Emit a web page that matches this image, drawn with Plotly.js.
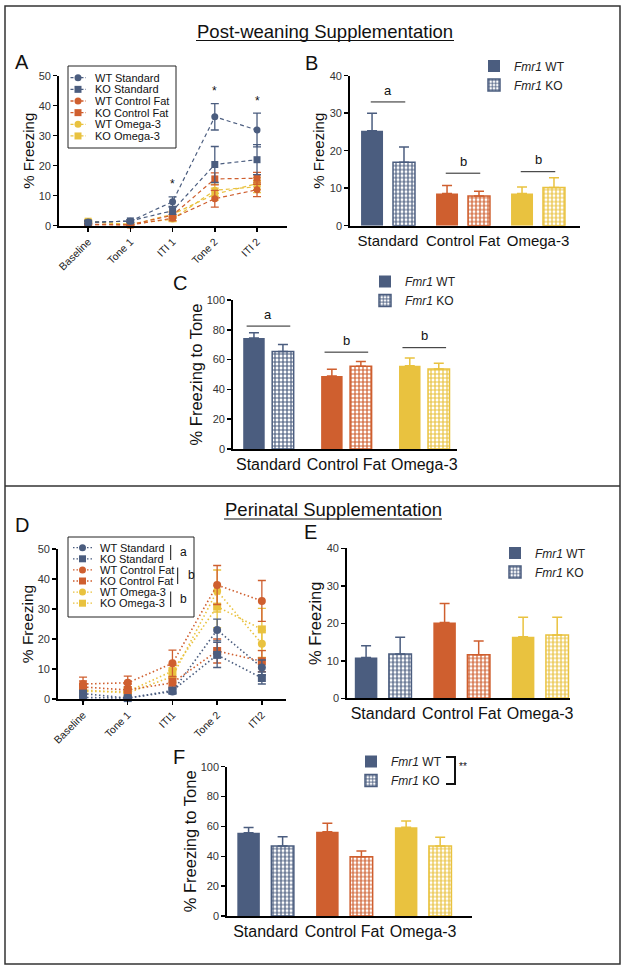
<!DOCTYPE html>
<html><head><meta charset="utf-8">
<script src="https://cdn.plot.ly/plotly-3.0.1.min.js"></script>
<style>html,body{margin:0;padding:0;background:#fff}</style>
</head><body><div id="chart" style="width:625px;height:968px"></div>
<script>
// ---------------- DATA ----------------
const phasesPost = ["Baseline","Tone 1","ITI 1","Tone 2","ITI 2"];
const phasesPeri = ["Baseline","Tone 1","ITI1","Tone 2","ITI2"];
const seriesNames = ["WT Standard","KO Standard","WT Control Fat","KO Control Fat","WT Omega-3","KO Omega-3"];
const diets = ["Standard","Control Fat","Omega-3"];
const genotypes = ["<i>Fmr1</i> WT","<i>Fmr1</i> KO"];

// Panel A (post-weaning, % freezing by phase), mean and SEM
const aWtStd = [1.2, 1.5, 8.0, 36.3, 31.9];   const aWtStdErr = [0.5, 0.4, 1.6, 4.4, 5.6];
const aKoStd = [1.0, 1.6, 5.0, 20.4, 22.0];   const aKoStdErr = [0.4, 0.4, 1.2, 6.0, 5.0];
const aWtCf  = [0.3, 0.2, 2.5, 9.0, 12.0];    const aWtCfErr  = [0.2, 0.2, 0.8, 2.8, 2.3];
const aKoCf  = [0.5, 0.3, 3.5, 15.6, 15.8];   const aKoCfErr  = [0.3, 0.2, 1.0, 2.0, 2.0];
const aWtOm  = [1.3, 0.5, 2.2, 11.8, 13.0];   const aWtOmErr  = [0.5, 0.3, 0.8, 2.0, 2.0];
const aKoOm  = [1.5, 0.3, 3.8, 10.5, 14.0];   const aKoOmErr  = [0.5, 0.2, 1.0, 2.0, 2.0];
const aStars = ["", "", "*", "*", "*"];

// Panel B (post-weaning, % freezing)
const bWt = [25.3, 8.6, 8.6];   const bWtErr = [4.7, 2.1, 1.7];
const bKo = [16.9, 7.9, 10.2];  const bKoErr = [4.1, 1.3, 2.6];
const bLetters = ["a","b","b"]; const bLetterLevel = [33, 14, 14.4];

// Panel C (post-weaning, % freezing to tone)
const cWt = [74.5, 49.0, 55.9]; const cWtErr = [3.6, 4.5, 5.2];
const cKo = [65.5, 55.5, 53.7]; const cKoErr = [4.7, 3.3, 3.8];
const cLetters = ["a","b","b"]; const cLetterLevel = [82.5, 65, 68];

// Panel D (perinatal, % freezing by phase)
const dWtStd = [0.5, 0.3, 2.5, 23.0, 10.5];   const dWtStdErr = [0.5, 0.3, 0.8, 3.6, 2.5];
const dKoStd = [1.8, 0.3, 2.8, 14.7, 7.0];    const dKoStdErr = [1.0, 0.3, 0.8, 4.2, 2.0];
const dWtCf  = [5.0, 5.4, 11.9, 38.0, 32.7];  const dWtCfErr  = [2.3, 2.2, 4.4, 6.5, 6.8];
const dKoCf  = [4.0, 3.0, 5.4, 16.0, 12.6];   const dKoCfErr  = [2.0, 2.0, 1.5, 4.0, 3.5];
const dWtOm  = [3.0, 2.0, 7.5, 36.0, 18.4];   const dWtOmErr  = [1.5, 1.5, 2.0, 7.0, 4.5];
const dKoOm  = [2.5, 2.5, 9.3, 30.8, 23.2];   const dKoOmErr  = [1.5, 1.5, 2.0, 7.0, 7.0];
const dGroupLetters = ["a","b","b"];

// Panel E (perinatal, % freezing)
const eWt = [10.9, 20.2, 16.4]; const eWtErr = [3.1, 5.1, 5.2];
const eKo = [11.8, 11.6, 16.9]; const eKoErr = [4.5, 3.7, 4.7];

// Panel F (perinatal, % freezing to tone)
const fWt = [55.8, 56.5, 59.4]; const fWtErr = [3.4, 5.6, 4.2];
const fKo = [46.9, 39.7, 46.9]; const fKoErr = [6.2, 3.8, 5.8];

// ---------------- STYLE ----------------
const W = 625, H = 968;
const px = x => x / W, py = y => 1 - y / H;
const FONT = "Liberation Sans, Arial, sans-serif";
const dietColors = ["#4b5d7f", "#cf5f2f", "#e9c23f"];
const seriesColors = [dietColors[0], dietColors[0], dietColors[1], dietColors[1], dietColors[2], dietColors[2]];
const seriesSymbols = ["circle","square","circle","square","circle","square"];

const traces = [];
const shapes = [];
const annotations = [];

function lineTraces(cats, means, errs, xa, ya, dash, lw, msize) {
  for (let i = means.length - 1; i >= 0; i--) {
    traces.push({
      type: "scatter", mode: "lines+markers", name: seriesNames[i],
      x: cats, y: means[i], xaxis: xa, yaxis: ya, showlegend: false, cliponaxis: false,
      line: {color: seriesColors[i], dash: dash, width: lw},
      marker: {symbol: seriesSymbols[i], size: msize, color: seriesColors[i]},
      error_y: {type: "data", array: errs[i], color: seriesColors[i], thickness: 1.3, width: 4}
    });
  }
}

function barTraces(wt, wtErr, ko, koErr, xa, ya, legendId, w, d) {
  const groups = [[wt, wtErr], [ko, koErr]];
  groups.forEach((g, gi) => {
    for (let k = 0; k < diets.length; k++) {
      const t = {
        type: "bar", name: genotypes[gi], x: [diets[k]], y: [g[0][k]],
        xaxis: xa, yaxis: ya, legend: legendId, showlegend: k === 0,
        width: w, offset: (gi === 0 ? -d : d) - w / 2, cliponaxis: false,
        marker: {color: dietColors[k], line: {color: dietColors[k], width: gi === 0 ? 0 : 1.5}},
        error_y: {type: "data", symmetric: false, array: [g[1][k]], arrayminus: [0],
                  color: dietColors[k], thickness: 1.5, width: 5}
      };
      if (gi === 1) {
        t.marker.pattern = {shape: "+", fgcolor: dietColors[k], bgcolor: "white", size: 4, solidity: 0.5, fillmode: "replace"};
      }
      traces.push(t);
    }
  });
}

lineTraces(phasesPost, [aWtStd, aKoStd, aWtCf, aKoCf, aWtOm, aKoOm],
           [aWtStdErr, aKoStdErr, aWtCfErr, aKoCfErr, aWtOmErr, aKoOmErr], "x", "y", "4px,3px", 1.2, 7);
barTraces(bWt, bWtErr, bKo, bKoErr, "x2", "y2", "legend", 0.293, 0.213);
barTraces(cWt, cWtErr, cKo, cKoErr, "x3", "y3", "legend2", 0.276, 0.186);
lineTraces(phasesPeri, [dWtStd, dKoStd, dWtCf, dKoCf, dWtOm, dKoOm],
           [dWtStdErr, dKoStdErr, dWtCfErr, dKoCfErr, dWtOmErr, dKoOmErr], "x4", "y4", "1.5px,2.5px", 1.6, 8);
barTraces(eWt, eWtErr, eKo, eKoErr, "x5", "y5", "legend3", 0.287, 0.217);
barTraces(fWt, fWtErr, fKo, fKoErr, "x6", "y6", "legend4", 0.286, 0.216);

// ---------------- AXES ----------------
function xAxis(l, r, range, ya, opts) {
  return Object.assign({
    domain: [px(l), px(r)], anchor: ya, type: "category", range: range,
    showline: true, linecolor: "#000", linewidth: 1.8, showgrid: false, zeroline: false,
    ticks: "", tickangle: 0, tickfont: {family: FONT, size: 16, color: "#111"}, fixedrange: true
  }, opts || {});
}
function yAxis(top, bottom, range, dtick, xa, title, tsize, standoff) {
  return {
    domain: [py(bottom), py(top)], anchor: xa, range: range, dtick: dtick,
    showline: true, linecolor: "#000", linewidth: 1.8, showgrid: false, zeroline: false,
    ticks: "outside", ticklen: 4, tickwidth: 1.5, tickcolor: "#000",
    tickfont: {family: FONT, size: 11, color: "#333"},
    title: {text: title, font: {family: FONT, size: tsize, color: "#111"}, standoff: standoff},
    fixedrange: true
  };
}
const lineX = {ticks: "outside", ticklen: 4, tickwidth: 1.5, tickcolor: "#000", tickangle: -45,
               tickfont: {family: FONT, size: 10.5, color: "#222"}};

// ---------------- LEGENDS (line panels) ----------------
function txt(x, y, text, size, xanchor) {
  return {xref: "paper", yref: "paper", x: px(x), y: py(y), xanchor: xanchor || "center", yanchor: "middle",
          text: text, showarrow: false, font: {family: FONT, size: size, color: "#111"}};
}
function customLegend(box, firstY, step, lineX0, lineX1, mx, textX, dash, fsize) {
  shapes.push({type: "rect", xref: "paper", yref: "paper", x0: px(box[0]), x1: px(box[2]), y0: py(box[1]), y1: py(box[3]),
               line: {color: "#222", width: 1}, fillcolor: "white", layer: "above"});
  seriesNames.forEach((nm, i) => {
    const y = firstY + i * step, c = seriesColors[i];
    shapes.push({type: "line", xref: "paper", yref: "paper", x0: px(lineX0), x1: px(lineX1), y0: py(y), y1: py(y),
                 line: {color: c, width: 1.3, dash: dash}, layer: "above"});
    const r = 3.5;
    shapes.push({type: seriesSymbols[i] === "circle" ? "circle" : "rect", xref: "paper", yref: "paper",
                 x0: px(mx - r), x1: px(mx + r), y0: py(y - r), y1: py(y + r),
                 fillcolor: c, line: {color: c, width: 0}, layer: "above"});
    annotations.push(txt(textX, y, nm, fsize, "left"));
  });
}
customLegend([68, 66, 176, 148], 77.7, 11.65, 70.5, 86, 78, 93, "3px,2px", 11);
customLegend([68, 537, 194, 617], 547.7, 11.1, 73, 92, 82.5, 97.5, "1.5px,2px", 11);
// group letters beside legend D
const dBars = [[170.7, 545, 560, 178, 552], [177.7, 567.5, 584, 185.5, 575], [170.7, 591.5, 607, 178, 599]];
dBars.forEach((b, i) => {
  shapes.push({type: "line", xref: "paper", yref: "paper", x0: px(b[0]), x1: px(b[0]), y0: py(b[1]), y1: py(b[2]),
               line: {color: "#111", width: 1}, layer: "above"});
  annotations.push(txt(b[3], b[4], dGroupLetters[i], 12, "left"));
});

// asterisks on panel A
aStars.forEach((s, i) => {
  if (!s) return;
  const top = [aWtStd[i] + aWtStdErr[i], aKoStd[i] + aKoStdErr[i]];
  annotations.push({xref: "x", yref: "y", x: i, y: Math.max(...top) + 4.2, text: s, showarrow: false,
                    xanchor: "center", yanchor: "middle", font: {family: FONT, size: 12, color: "#111"}});
});

// significance lines panels B and C
function sigLines(letters, levels, xa, ya, half, gap) {
  letters.forEach((l, k) => {
    shapes.push({type: "line", xref: xa, yref: ya, x0: k - half, x1: k + half, y0: levels[k], y1: levels[k],
                 line: {color: "#222", width: 1}});
    annotations.push({xref: xa, yref: ya, x: k, y: levels[k] + gap, text: l, showarrow: false,
                      xanchor: "center", yanchor: "bottom", font: {family: FONT, size: 13, color: "#111"}});
  });
}
sigLines(bLetters, bLetterLevel, "x2", "y2", 0.23, 0.6);
sigLines(cLetters, cLetterLevel, "x3", "y3", 0.28, 1.5);

// F genotype bracket
shapes.push({type: "path", xref: "paper", yref: "paper",
  path: `M ${px(446)} ${py(757)} L ${px(455)} ${py(757)} L ${px(455)} ${py(784)} L ${px(446)} ${py(784)}`,
  line: {color: "#111", width: 2}});
annotations.push(txt(457, 766, "**", 10, "left"));

// frame, divider, section titles
shapes.push({type: "rect", xref: "paper", yref: "paper", x0: px(5), x1: px(620), y0: py(6), y1: py(964),
             line: {color: "#333", width: 1.5}});
shapes.push({type: "line", xref: "paper", yref: "paper", x0: px(5), x1: px(620), y0: py(486), y1: py(486),
             line: {color: "#333", width: 1.5}});
const sections = [["Post-weaning Supplementation", 325, 31, 40.5, 129], ["Perinatal Supplementation", 333, 509, 519, 109]];
sections.forEach(s => {
  annotations.push(txt(s[1], s[2], s[0], 18.5));
  shapes.push({type: "line", xref: "paper", yref: "paper", x0: px(s[1] - s[4]), x1: px(s[1] + s[4]), y0: py(s[3]), y1: py(s[3]),
               line: {color: "#111", width: 1.2}});
});
// panel letters
[["A", 22, 62], ["B", 311, 63], ["C", 180, 283], ["D", 22, 525], ["E", 310, 532], ["F", 179, 757]].forEach(p => {
  annotations.push(txt(p[1], p[2], p[0], 20));
});

function barLegend(x, y) {
  return {x: px(x), y: py(y), xanchor: "left", yanchor: "top", bgcolor: "rgba(0,0,0,0)", borderwidth: 0,
          font: {family: FONT, size: 12, color: "#222"}, tracegroupgap: 0};
}

const layout = {
  width: W, height: H, margin: {l: 0, r: 0, t: 0, b: 0}, autosize: false,
  paper_bgcolor: "#fff", plot_bgcolor: "#fff", font: {family: FONT},
  barmode: "overlay",
  xaxis: xAxis(59, 287, [-0.69, 4.71], "y", lineX),
  yaxis: yAxis(75.7, 225.7, [0, 50], 10, "x", "% Freezing", 15, 0),
  xaxis2: xAxis(350, 580, [-0.507, 2.56], "y2", {tickfont: {family: FONT, size: 15, color: "#111"}}),
  yaxis2: yAxis(75.7, 225.7, [0, 40], 10, "x2", "% Freezing", 15, 1),
  xaxis3: xAxis(233, 457, [-0.455, 2.42], "y3"),
  yaxis3: yAxis(300, 449, [0, 100], 20, "x3", "% Freezing to Tone", 16.5, 0),
  xaxis4: xAxis(58, 286, [-0.56, 4.54], "y4", lineX),
  yaxis4: yAxis(549, 699, [0, 50], 10, "x4", "% Freezing", 15.5, 0),
  xaxis5: xAxis(347, 570, [-0.46, 2.38], "y5"),
  yaxis5: yAxis(548.3, 698.3, [0, 40], 10, "x5", "% Freezing", 16.5, 1),
  xaxis6: xAxis(227, 472, [-0.49, 2.62], "y6"),
  yaxis6: yAxis(766.7, 916, [0, 100], 20, "x6", "% Freezing to Tone", 16.5, 0),
  legend: barLegend(474, 51.5),
  legend2: barLegend(365, 267),
  legend3: barLegend(495, 538.5),
  legend4: barLegend(351, 747),
  shapes: shapes, annotations: annotations
};

Plotly.newPlot("chart", traces, layout, {displayModeBar: false, staticPlot: true});
</script>
</body></html>
